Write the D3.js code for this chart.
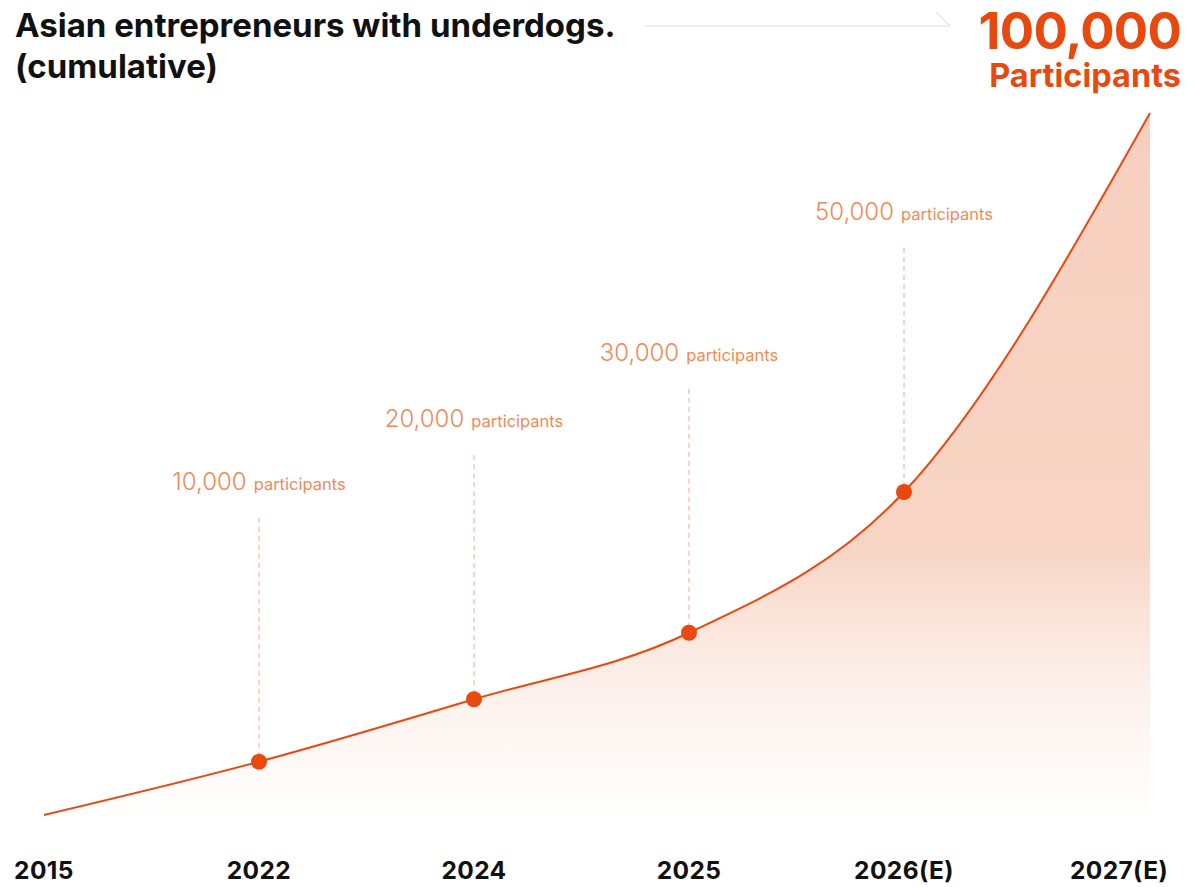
<!DOCTYPE html>
<html>
<head>
<meta charset="utf-8">
<script src="https://cdn.jsdelivr.net/npm/d3@7"></script>
<style>
  html, body { margin: 0; padding: 0; background: #fff; }
  svg { display: block; }
  text { font-family: Inter, "Open Sans", sans-serif; }
</style>
</head>
<body>
<svg id="chart" width="1204" height="887"></svg>
<script>
// ---- data ----
const years = ["2015", "2022", "2024", "2025", "2026(E)", "2027(E)"];
const participants = [0, 10000, 20000, 30000, 50000, 100000];
const annotated = ["2022", "2024", "2025", "2026(E)"];
const titleLines = ["Asian entrepreneurs with underdogs.", "(cumulative)"];
const headlineValue = "100,000";
const headlineUnit = "Participants";
const unitLabel = "participants";

// ---- styles ----
const W = 1204, H = 887;
const orange = "#e8490f";
const labelOrange = "#f28a55";
const dashColor = "#f6b79e";

const svg = d3.select("#chart");

const x = d3.scalePoint().domain(years).range([44, 1119]);
const y = d3.scalePow().exponent(1.12).domain([0, 100000]).range([815, 113]);
const endOverhang = 31;

const data = years.map((yr, i) => ({ year: yr, value: participants[i] }));
const px = (d, i) => x(d.year) + (i === data.length - 1 ? endOverhang : 0);

// gradient
const defs = svg.append("defs");
const grad = defs.append("linearGradient")
  .attr("id", "fillGrad").attr("gradientUnits", "userSpaceOnUse")
  .attr("x1", 0).attr("x2", 0).attr("y1", y(100000)).attr("y2", y(0));
grad.append("stop").attr("offset", "0%").attr("stop-color", "#f7cfbe").attr("stop-opacity", 1);
grad.append("stop").attr("offset", "62%").attr("stop-color", "#f7d2c1").attr("stop-opacity", 0.95);
grad.append("stop").attr("offset", "100%").attr("stop-color", "#fdf0ea").attr("stop-opacity", 0.12);

const curve = d3.curveMonotoneX;
const area = d3.area()
  .x((d, i) => px(d, i))
  .y0(y(0))
  .y1(d => y(d.value))
  .curve(curve);
const line = d3.line()
  .x((d, i) => px(d, i))
  .y(d => y(d.value))
  .curve(curve);

svg.append("path").datum(data).attr("d", area).attr("fill", "url(#fillGrad)");
svg.append("path").datum(data).attr("d", line)
  .attr("fill", "none").attr("stroke", orange).attr("stroke-width", 2);

// annotations
const ann = data.filter(d => annotated.includes(d.year));
const labelOffset = 272;
const g = svg.append("g");
ann.forEach(d => {
  const cx = x(d.year), cy = y(d.value);
  const by = cy - labelOffset;
  g.append("line")
    .attr("x1", cx).attr("x2", cx)
    .attr("y1", by + 28).attr("y2", cy)
    .attr("stroke", dashColor).attr("stroke-width", 1.2)
    .attr("stroke-dasharray", "5,4");
  const t = g.append("text")
    .attr("x", cx).attr("y", by)
    .attr("text-anchor", "middle")
    .attr("fill", labelOrange);
  t.append("tspan").attr("font-size", 24).attr("font-weight", 300)
    .text(d3.format(",")(d.value));
  t.append("tspan").attr("font-size", 16.5).attr("font-weight", 400).attr("dx", 7)
    .text(unitLabel);
  g.append("circle").attr("cx", cx).attr("cy", cy).attr("r", 8).attr("fill", orange);
});

// x axis labels
svg.append("g").selectAll("text").data(years).join("text")
  .attr("x", d => x(d))
  .attr("y", 879)
  .attr("text-anchor", "middle")
  .attr("font-size", 24.5)
  .attr("font-weight", 700)
  .attr("letter-spacing", 0.4)
  .attr("fill", "#111")
  .text(d => d);

// title
svg.append("g").selectAll("text").data(titleLines).join("text")
  .attr("x", 15)
  .attr("y", (d, i) => 37 + i * 41)
  .attr("font-size", 33)
  .attr("font-weight", 700)
  .attr("fill", "#111")
  .text(d => d);

// arrow
svg.append("line").attr("x1", 645).attr("x2", 950).attr("y1", 26).attr("y2", 26)
  .attr("stroke", "#e9e9e9").attr("stroke-width", 1.6);
svg.append("line").attr("x1", 936).attr("x2", 950).attr("y1", 12).attr("y2", 26)
  .attr("stroke", "#e9e9e9").attr("stroke-width", 1.6);

// headline
svg.append("text").attr("x", 1181).attr("y", 49).attr("text-anchor", "end")
  .attr("font-size", 51).attr("font-weight", 700).attr("letter-spacing", -0.8)
  .attr("fill", orange)
  .text(headlineValue);
svg.append("text").attr("x", 1181).attr("y", 87).attr("text-anchor", "end")
  .attr("font-size", 32.5).attr("font-weight", 700).attr("fill", orange)
  .text(headlineUnit);
</script>
</body>
</html>
